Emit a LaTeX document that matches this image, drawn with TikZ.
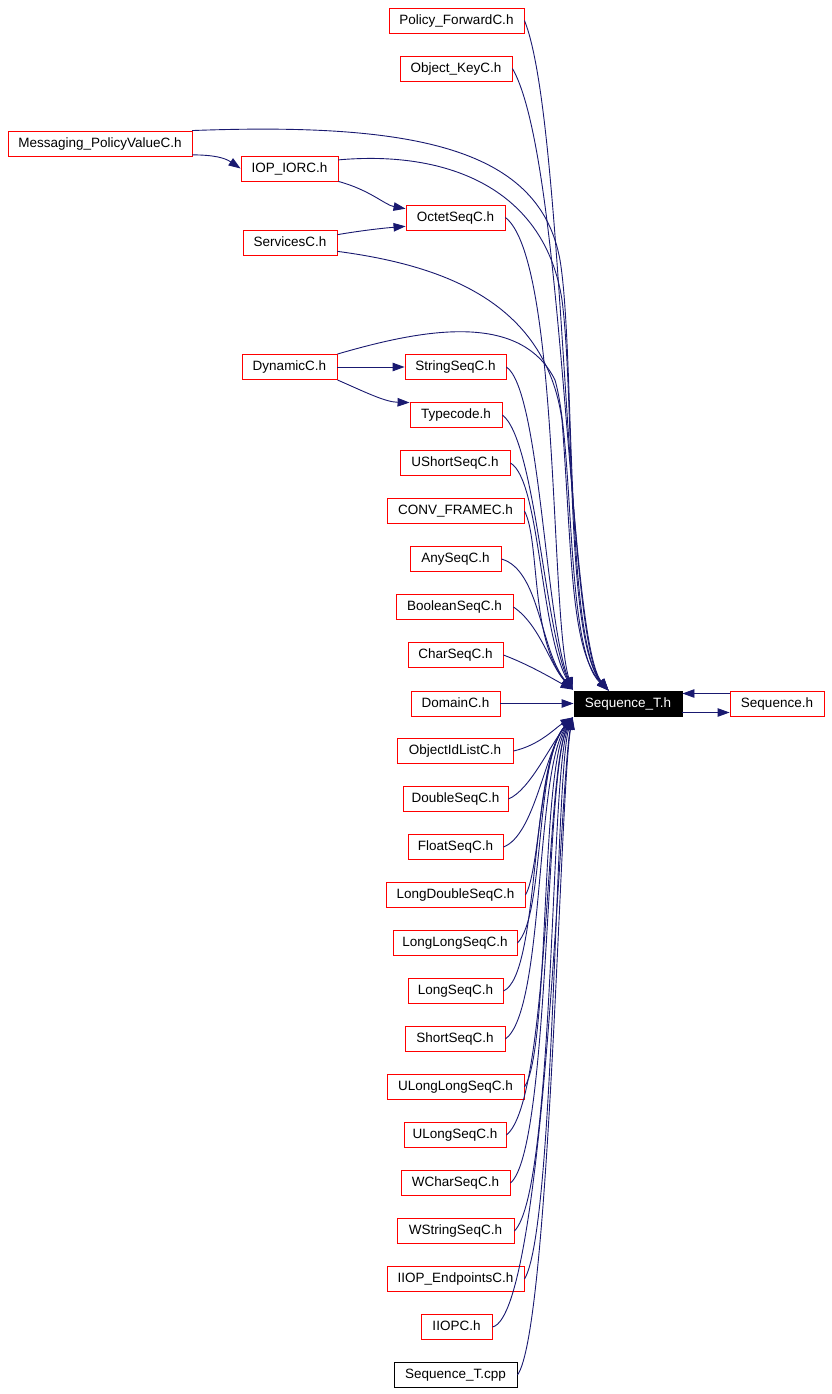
\documentclass[tikz,border=0pt]{standalone}
\usepackage{fontspec}
\setmainfont{Liberation Sans}
\usetikzlibrary{arrows.meta,calc}
\definecolor{navyc}{HTML}{191970}
\begin{document}
\begin{tikzpicture}[x=1pt,y=-1pt,
  nbox/.style={draw=red, line width=0.9pt, minimum height=25pt, inner xsep=2pt, inner ysep=0pt, text height=9.8pt, text depth=2.6pt, font=\fontsize{13.5}{15}\selectfont, text=black},
  kbox/.style={nbox, draw=black},
  edge/.style={draw=navyc, line width=0.9pt, -{Triangle[length=12pt,width=8.5pt]}}]
\useasboundingbox (0,0) rectangle (831,1394);
\fill[white] (0,0) rectangle (831,1394);
% nodes
\node[nbox, minimum width=135pt] (pf) at (456.5,20.5) {Policy\_ForwardC.h};
\node[nbox, minimum width=112pt] (ok) at (456,68.5) {Object\_KeyC.h};
\node[nbox, minimum width=184pt] (ms) at (100,143.5) {Messaging\_PolicyValueC.h};
\node[nbox, minimum width=97pt] (iop) at (289.5,168.5) {IOP\_IORC.h};
\node[nbox, minimum width=99pt] (oc) at (455.5,217.5) {OctetSeqC.h};
\node[nbox, minimum width=94pt] (sv) at (290,243) {ServicesC.h};
\node[nbox, minimum width=95pt] (dy) at (289.5,367) {DynamicC.h};
\node[nbox, minimum width=101pt] (ss) at (455.5,367) {StringSeqC.h};
\node[nbox, minimum width=92pt] (tc) at (456,415) {Typecode.h};
\node[nbox, minimum width=110pt] (us) at (455,463) {UShortSeqC.h};
\node[nbox, minimum width=137pt] (cf) at (455.5,511) {CONV\_FRAMEC.h};
\node[nbox, minimum width=91pt] (as) at (455.5,559) {AnySeqC.h};
\node[nbox, minimum width=117pt] (bs) at (454.5,607) {BooleanSeqC.h};
\node[nbox, minimum width=95pt] (cs) at (455.5,655) {CharSeqC.h};
\node[nbox, minimum width=89pt] (dm) at (455.5,703.5) {DomainC.h};
\node[nbox, minimum width=116pt] (oi) at (455,751) {ObjectIdListC.h};
\node[nbox, minimum width=105pt] (ds) at (455.5,799) {DoubleSeqC.h};
\node[nbox, minimum width=95pt] (fs) at (455.5,847) {FloatSeqC.h};
\node[nbox, minimum width=139pt] (ld) at (455.5,895) {LongDoubleSeqC.h};
\node[nbox, minimum width=124pt] (ll) at (455,943) {LongLongSeqC.h};
\node[nbox, minimum width=95pt] (ls) at (455.5,991) {LongSeqC.h};
\node[nbox, minimum width=100pt] (sh) at (455,1039) {ShortSeqC.h};
\node[nbox, minimum width=137pt] (ull) at (455.5,1087) {ULongLongSeqC.h};
\node[nbox, minimum width=102pt] (ul) at (455,1135) {ULongSeqC.h};
\node[nbox, minimum width=109pt] (wc) at (455.5,1183) {WCharSeqC.h};
\node[nbox, minimum width=117pt] (ws) at (455.5,1231) {WStringSeqC.h};
\node[nbox, minimum width=137pt] (ie) at (455.5,1279) {IIOP\_EndpointsC.h};
\node[nbox, minimum width=71pt] (ii) at (456.5,1327) {IIOPC.h};
\node[kbox, minimum width=123pt] (cpp) at (455.5,1375) {Sequence\_T.cpp};
\node[nbox, draw=black, fill=black, text=white, minimum width=108pt] (st) at (628,703.5) {Sequence\_T.h};
\node[nbox, minimum width=94pt] (sq) at (777,703.5) {Sequence.h};
% target points
\coordinate (tt) at ($(st.north west)+(35,0)$);
\coordinate (tl) at ($(st.north west)+(-1,-1)$);
\coordinate (tb) at ($(st.south west)+(-1,1)$);
% edges from the top
\draw[edge] (pf.east) .. controls (565,120) and (565,640) .. (tt);
\draw[edge] (ok.east) .. controls (565,160) and (568,640) .. (tt);
\draw[edge] (ms.8) .. controls (420,122) and (540,150) .. (560,260) .. controls (575,350) and (565,640) .. (tt);
\draw[edge] (ms.-7) .. controls (215,155) and (225,158) .. (iop.west);
\draw[edge] (iop.10) .. controls (450,150) and (545,190) .. (562,300) .. controls (575,400) and (565,640) .. (tt);
\draw[edge] (iop.south east) .. controls (370,190) and (385,205) .. (oc.170);
\draw[edge] (sv.10) .. controls (365,230) and (385,228) .. (oc.190);
\draw[edge] (sv.-10) .. controls (440,265) and (545,300) .. (562,420) .. controls (572,550) and (570,650) .. (tt);
\draw[edge] (dy.north east) .. controls (420,330) and (520,310) .. (555,380) .. controls (575,450) and (565,650) .. (tt);
\draw[edge] (dy.east) -- (ss.west);
\draw[edge] (dy.south east) .. controls (365,392) and (385,402) .. (tc.165);
% middle group
\draw[edge] (oc.east) .. controls (560,260) and (550,620) .. (tl);
\draw[edge] (ss.east) .. controls (540,390) and (545,620) .. (tl);
\draw[edge] (tc.east) .. controls (535,440) and (545,630) .. (tl);
\draw[edge] (us.east) .. controls (540,480) and (540,630) .. (tl);
\draw[edge] (cf.east) .. controls (540,540) and (530,640) .. (tl);
\draw[edge] (as.east) .. controls (540,570) and (540,650) .. (tl);
\draw[edge] (bs.east) .. controls (540,625) and (550,665) .. (tl);
\draw[edge] (cs.east) .. controls (530,665) and (555,680) .. (tl);
\draw[edge] (dm.east) -- (st.west);
% lower group
\draw[edge] (oi.east) .. controls (540,745) and (555,728) .. (tb);
\draw[edge] (ds.east) .. controls (530,790) and (550,745) .. (tb);
\draw[edge] (fs.east) .. controls (535,835) and (545,750) .. (tb);
\draw[edge] (ld.east) .. controls (540,870) and (540,755) .. (tb);
\draw[edge] (ll.east) .. controls (545,915) and (535,760) .. (tb);
\draw[edge] (ls.east) .. controls (540,975) and (530,765) .. (tb);
\draw[edge] (sh.east) .. controls (545,1010) and (535,770) .. (tb);
\draw[edge] (ull.east) .. controls (550,1050) and (540,770) .. (tb);
\draw[edge] (ul.east) .. controls (550,1100) and (545,770) .. (tb);
\draw[edge] (wc.east) .. controls (550,1150) and (545,770) .. (tb);
\draw[edge] (ws.east) .. controls (555,1190) and (550,770) .. (tb);
\draw[edge] (ie.east) .. controls (555,1230) and (555,770) .. (tb);
\draw[edge] (ii.east) .. controls (545,1315) and (560,780) .. (tb);
\draw[edge] (cpp.east) .. controls (550,1330) and (560,790) .. (tb);
% Sequence.h <-> Sequence_T.h
\draw[edge] ($(sq.west)+(0,-10)$) -- ($(st.east)+(0,-10)$);
\draw[edge] ($(st.east)+(0,9)$) -- ($(sq.west)+(0,9)$);
\end{tikzpicture}
\end{document}
